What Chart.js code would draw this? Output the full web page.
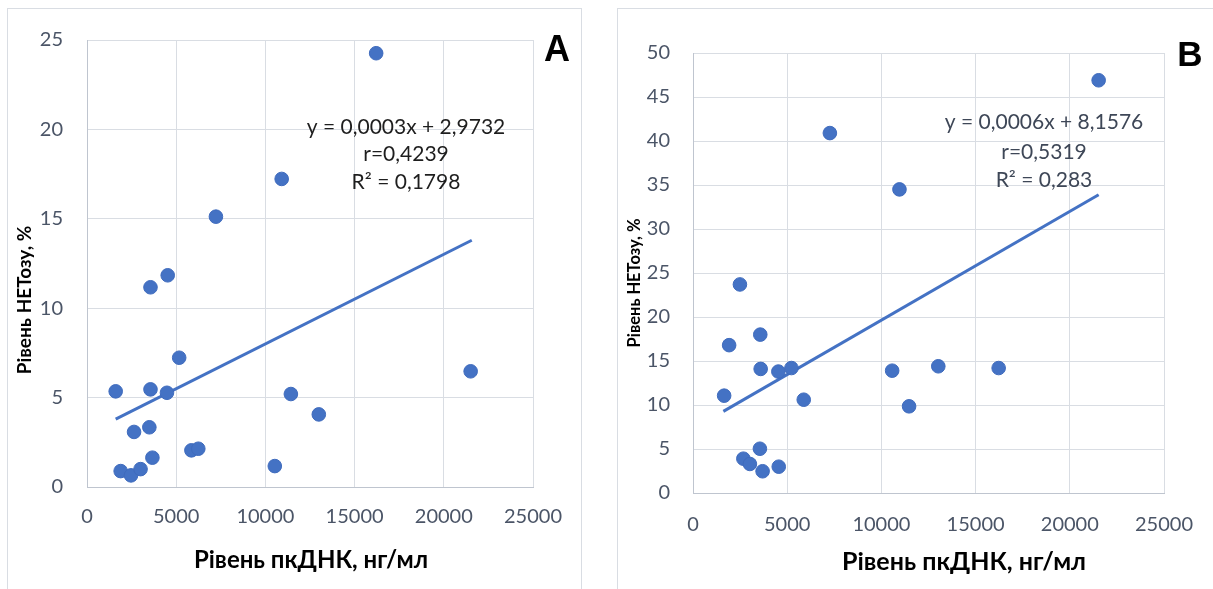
<!DOCTYPE html>
<html>
<head>
<meta charset="utf-8">
<script src="https://cdn.jsdelivr.net/npm/chart.js@4.4.1/dist/chart.umd.min.js"></script>
<style>
  html, body { margin: 0; padding: 0; background: #fff; width: 1213px; height: 589px; overflow: hidden; }
  .frame { position: absolute; border: 1px solid #D9DDE3; box-sizing: border-box; }
  canvas { position: absolute; top: 0; }
</style>
</head>
<body>
<div class="frame" style="left:7px; top:8px; width:575px; height:600px;"></div>
<div class="frame" style="left:617px; top:8px; width:620px; height:600px;"></div>
<canvas id="chartA" width="600" height="589" style="left:0px;"></canvas>
<canvas id="chartB" width="607" height="589" style="left:606px;"></canvas>
<script>
// ---- Data ----
// Panel A: pcDNA level (ng/ml) vs NETosis level (%)
const pointsA_x = [16209, 10913, 7226, 4524, 3559, 5167, 21505, 1608, 3559, 4481, 11428, 12993, 3495, 2637, 3666, 5853, 6239, 10527, 1887, 2466, 3002];
const pointsA_y = [24.26, 17.23, 15.12, 11.84, 11.17, 7.23, 6.47, 5.35, 5.46, 5.27, 5.2, 4.06, 3.34, 3.08, 1.64, 2.05, 2.14, 1.17, 0.89, 0.65, 1.0];
const trendA_x = [1608, 21569];
const trendA_y = [3.80, 13.8];
const equationA = ["y = 0,0003x + 2,9732", "r=0,4239", "R\u00B2 = 0,1798"];

// Panel B
const pointsB_x = [21531, 7265, 10959, 2490, 3571, 1918, 3592, 4531, 5224, 10571, 13020, 16224, 1653, 5878, 11469, 3551, 2673, 3020, 3694, 4551];
const pointsB_y = [46.9, 40.9, 34.5, 23.7, 18.0, 16.8, 14.1, 13.8, 14.2, 13.9, 14.4, 14.2, 11.06, 10.6, 9.85, 5.03, 3.9, 3.3, 2.47, 2.99];
const trendB_x = [1612, 21531];
const trendB_y = [9.28, 33.9];
const equationB = ["y = 0,0006x + 8,1576", "r=0,5319", "R\u00B2 = 0,283"];

const xAxisTitle = "Рівень пкДНК, нг/мл";
const yAxisTitle = "Рівень НЕТозу, %";
const xTickMax = 25000, xTickStep = 5000;
const yTickMaxA = 25, yTickMaxB = 50, yTickStep = 5;

// ---- Helpers ----
const toPoints = (xs, ys) => xs.map((x, i) => ({ x: x, y: ys[i] }));

const overlayText = {
  id: 'overlayText',
  afterDraw(chart, args, opts) {
    const ctx = chart.ctx;
    (opts.items || []).forEach(it => {
      ctx.save();
      ctx.font = it.font;
      ctx.fillStyle = it.color;
      ctx.textAlign = 'center';
      ctx.textBaseline = 'middle';
      ctx.translate(it.x, it.y);
      if (it.rotate) ctx.rotate(it.rotate);
      ctx.fillText(it.text, 0, 0);
      ctx.restore();
    });
  }
};

const BLUE = '#4472C4';
const TICK = '#4B5567';
const GRID = '#D9DDE3';
const AXIS = '#BFC5CF';

function makeChart(id, pts, trend, yMax, geom, texts) {
  new Chart(document.getElementById(id), {
    type: 'scatter',
    data: {
      datasets: [
        {
          data: pts,
          backgroundColor: BLUE,
          borderColor: '#3F6BBD',
          borderWidth: 1,
          pointRadius: 6.8,
          pointHoverRadius: 6.8
        },
        {
          type: 'line',
          data: trend,
          borderColor: BLUE,
          borderWidth: 3,
          pointRadius: 0,
          fill: false,
          tension: 0
        }
      ]
    },
    options: {
      responsive: false,
      animation: false,
      events: [],
      layout: { padding: { left: 0, right: geom.padRight, top: geom.top, bottom: 0 } },
      plugins: {
        legend: { display: false },
        tooltip: { enabled: false },
        overlayText: { items: texts }
      },
      scales: {
        x: {
          type: 'linear',
          min: 0, max: xTickMax,
          afterFit(scale) { scale.height = geom.xAxisH; },
          ticks: {
            stepSize: xTickStep,
            padding: geom.xTickPad,
            color: TICK,
            font: { family: 'Lato', size: 20 },
            maxRotation: 0,
            callback: v => String(v)
          },
          grid: { color: GRID, lineWidth: 1, drawTicks: false },
          border: { display: true, color: AXIS, width: 1 }
        },
        y: {
          type: 'linear',
          min: 0, max: yMax,
          afterFit(scale) { scale.width = geom.yAxisW; },
          ticks: {
            stepSize: yTickStep,
            padding: geom.yTickPad,
            color: TICK,
            font: { family: 'Lato', size: 20 },
            callback: v => String(v)
          },
          grid: { color: GRID, lineWidth: 1, drawTicks: false },
          border: { display: true, color: AXIS, width: 1 }
        }
      }
    },
    plugins: [overlayText]
  });
}

// Panel A
makeChart('chartA', toPoints(pointsA_x, pointsA_y), toPoints(trendA_x, trendA_y), yTickMaxA,
  { padRight: 67, top: 40, xAxisH: 102, yAxisW: 87, xTickPad: 18, yTickPad: 24 },
  [
    { text: equationA[0], x: 406, y: 127, font: '21px Lato', color: '#1E1E1E' },
    { text: equationA[1], x: 406, y: 154, font: '21px Lato', color: '#1E1E1E' },
    { text: equationA[2], x: 406, y: 182, font: '21px Lato', color: '#1E1E1E' },
    { text: 'A', x: 557, y: 51, font: 'bold 36px "Liberation Sans"', color: '#000' },
    { text: xAxisTitle, x: 311, y: 560, font: 'bold 24px Lato', color: '#000' },
    { text: yAxisTitle, x: 25, y: 300, font: 'bold 19px Lato', color: '#000', rotate: -Math.PI / 2 }
  ]);

// Panel B
makeChart('chartB', toPoints(pointsB_x, pointsB_y), toPoints(trendB_x, trendB_y), yTickMaxB,
  { padRight: 46, top: 53, xAxisH: 96, yAxisW: 87, xTickPad: 20, yTickPad: 23 },
  [
    { text: equationB[0], x: 438, y: 122, font: '21px Lato', color: '#3E4757' },
    { text: equationB[1], x: 438, y: 152, font: '21px Lato', color: '#3E4757' },
    { text: equationB[2], x: 438, y: 180, font: '21px Lato', color: '#3E4757' },
    { text: 'B', x: 584, y: 56, font: 'bold 35px "Liberation Sans"', color: '#000' },
    { text: xAxisTitle, x: 358, y: 562, font: 'bold 25px Lato', color: '#000' },
    { text: yAxisTitle, x: 29, y: 283, font: 'bold 16.5px Lato', color: '#000', rotate: -Math.PI / 2 }
  ]);
</script>
</body>
</html>
